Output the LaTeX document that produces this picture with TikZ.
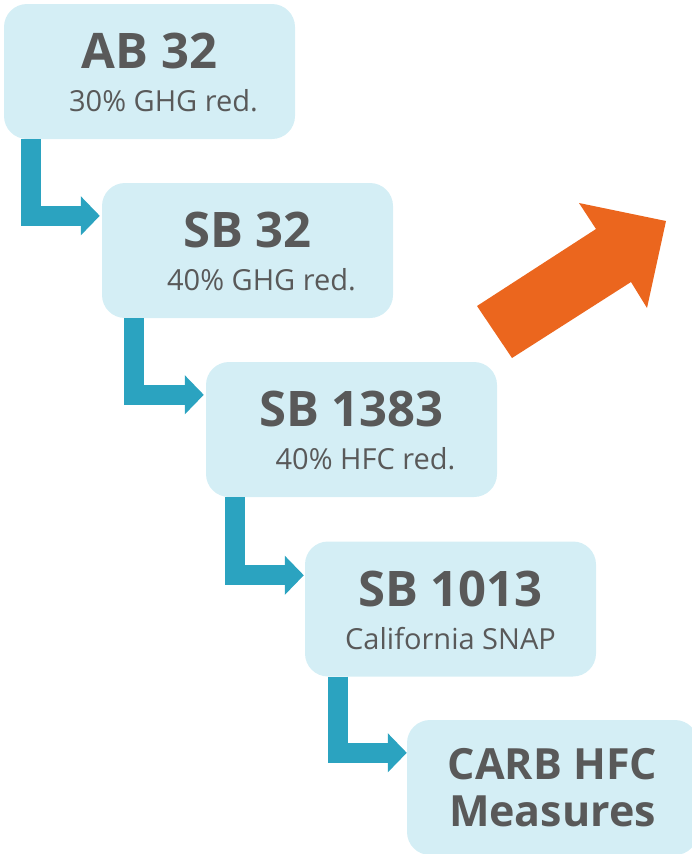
\documentclass[tikz,border=0pt]{standalone}
\usepackage{fontspec}
\setmainfont{Open Sans}
\usetikzlibrary{arrows.meta}
\definecolor{boxblue}{HTML}{D4EEF5}
\definecolor{textgray}{HTML}{595959}
\definecolor{linkteal}{HTML}{2BA3C0}
\definecolor{uporange}{HTML}{EB661E}
\newcommand{\billname}[1]{{\fontsize{49}{43}\bfseries\selectfont\rule{0pt}{38pt}#1}}

\begin{document}
\begin{tikzpicture}[x=1pt,y=1pt,
  box/.style={fill=boxblue,rounded corners=23pt,minimum width=291pt,minimum height=135pt,
    inner sep=0pt,align=center,text=textgray,font=\fontsize{29}{43}\selectfont},
  link/.style={draw=linkteal,line width=20pt,-{Triangle[width=38pt,length=19pt]}}]
\useasboundingbox (0,0) rectangle (692,-854);
\node[box] (ab32) at (149.5,-71.5) {\billname{AB 32}\\\hspace*{28pt}30\% GHG red.};
\node[box] (sb32) at (247.5,-250.5) {\billname{SB 32}\\\hspace*{28pt}40\% GHG red.};
\node[box] (sb1383) at (351.5,-429.5) {\billname{SB 1383}\\\hspace*{28pt}40\% HFC red.};
\node[box] (sb1013) at (450.5,-609) {\billname{SB 1013}\\California SNAP};
\node[box,font=\fontsize{43}{47}\bfseries\selectfont] (carb) at (552.5,-787.5) {CARB HFC\\Measures};
\draw[link] ([xshift=27pt]ab32.south west) |- ([xshift=-2pt,yshift=-33pt]sb32.north west);
\draw[link] ([xshift=32pt]sb32.south west) |- ([xshift=-2pt,yshift=-33pt]sb1383.north west);
\draw[link] ([xshift=29pt]sb1383.south west) |- ([xshift=-1pt,yshift=-34pt]sb1013.north west);
\draw[link] ([xshift=33pt]sb1013.south west) |- ([yshift=-33pt]carb.north west);
\fill[uporange] (477,-306) -- (596,-229) -- (579,-203) -- (666,-221) -- (647,-308) -- (631,-282) -- (512,-358) -- cycle;
\end{tikzpicture}
\end{document}
